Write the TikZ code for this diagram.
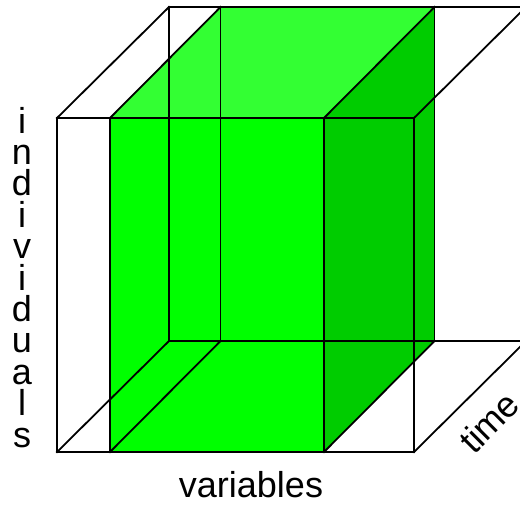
\documentclass[tikz,border=0pt]{standalone}
\usepackage{fontspec}
\setmainfont{Liberation Sans}
\usetikzlibrary{calc}
\definecolor{frontgreen}{HTML}{00FF00}
\definecolor{topgreen}{HTML}{33FF33}
\definecolor{sidegreen}{HTML}{00CC00}
\begin{document}
\begin{tikzpicture}[x=1pt,y=-1pt,
  edge/.style={line width=1.8pt, line join=miter, line cap=rect},
  lbl/.style={font=\fontsize{36}{36}\selectfont, inner sep=0pt}]
\useasboundingbox (0,0) rectangle (520,507);
\begin{scope}
\clip (0,0) rectangle (520,507);
% outer box
\coordinate (of1) at (57,118);
\coordinate (of2) at (414,118);
\coordinate (of3) at (414,452);
\coordinate (of4) at (57,452);
\coordinate (ob1) at ($(of1)+(112,-111)$);
\coordinate (ob2) at ($(of2)+(112,-111)$);
\coordinate (ob3) at ($(of3)+(112,-111)$);
\coordinate (ob4) at ($(of4)+(112,-111)$);
% inner (green) box
\coordinate (if1) at (110,118);
\coordinate (if2) at (324,118);
\coordinate (if3) at (324,452);
\coordinate (if4) at (110,452);
\coordinate (ib1) at ($(if1)+(110.5,-111)$);
\coordinate (ib2) at ($(if2)+(110.5,-111)$);
\coordinate (ib3) at ($(if3)+(110.5,-111)$);
\coordinate (ib4) at ($(if4)+(110.5,-111)$);
% fills
\fill[frontgreen] (if1) rectangle (if3);
\fill[topgreen] (if1) -- (ib1) -- (ib2) -- (if2) -- cycle;
\fill[sidegreen] (if2) -- (ib2) -- (ib3) -- (if3) -- cycle;
% outer edges
\draw[edge] (of1) -- (of2) -- (of3) -- (of4) -- cycle;
\draw[edge] (ob1) -- (ob2) -- (ob3) -- (ob4) -- cycle;
\draw[edge] (of1) -- (ob1) (of2) -- (ob2) (of3) -- (ob3) (of4) -- (ob4);
% inner edges
\draw[edge] (if1) -- (if2) -- (if3) -- (if4) -- cycle;
\draw[edge] (ib1) -- (ib2) -- (ib3) -- (ib4) -- cycle;
\draw[edge] (if1) -- (ib1) (if2) -- (ib2) (if3) -- (ib3) (if4) -- (ib4);
\end{scope}
% labels
\foreach \l [count=\i from 0] in {i,n,d,i,v,i,d,u,a,l,s}
  \node[lbl, anchor=base] (ind\i) at (22,133+31.4*\i) {\l};
\node[lbl, anchor=base] (vars) at (251,497) {variables};
\node[lbl, rotate=45] (time) at (489,422) {time};
\end{tikzpicture}
\end{document}
